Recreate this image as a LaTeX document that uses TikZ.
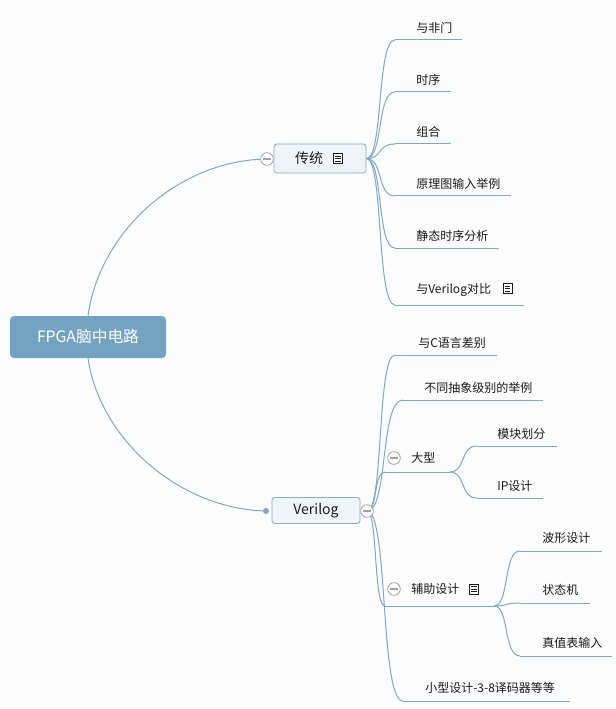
\documentclass[tikz,border=0pt]{standalone}
\usepackage{fontspec}
\setmainfont{Noto Sans CJK SC}
\usetikzlibrary{calc}
\definecolor{lc}{HTML}{7FA8C6}
\definecolor{rootfill}{HTML}{74A2C1}
\definecolor{boxfill}{HTML}{EEF4F8}
\definecolor{boxline}{HTML}{86ADCA}
\definecolor{bgc}{HTML}{FCFCFC}
\definecolor{txt}{HTML}{1A1A1A}
\pgfdeclarelayer{bg}
\pgfdeclarelayer{lines}
\pgfsetlayers{bg,lines,main}
\tikzset{
  conn/.style={draw=lc, line width=0.75pt},
  lbl/.style={anchor=west, inner sep=0pt, text=txt, font=\fontsize{9}{10}\selectfont},
  rootbox/.style={rectangle, rounded corners=3pt, fill=rootfill, text=white,
    minimum width=117pt, minimum height=31.5pt, inner sep=0pt,
    font=\fontsize{11.8}{13}\selectfont},
  topicbox/.style={rectangle, rounded corners=2pt, fill=boxfill, draw=boxline,
    line width=0.6pt, inner sep=0pt, text=txt, font=\fontsize{10.5}{12}\selectfont},
  collapse/.style={circle, draw=gray!75, fill=white, minimum size=9.5pt, inner sep=0pt,
    line width=0.6pt,
    path picture={\draw[gray!75, line width=0.8pt]
      ([xshift=-2.8pt]path picture bounding box.center) --
      ([xshift=2.8pt]path picture bounding box.center);}},
  noteicon/.pic={
    \draw[txt, line width=0.55pt, fill=white] (-4.6,-5) rectangle (4.6,5);
    \draw[txt, line width=0.5pt] (-2.6,-2.4)--(2.6,-2.4) (-2.6,0)--(2.6,0) (-2.6,2.4)--(2.6,2.4);
  }
}
\newcommand\mybranch[2]{%
  \draw[conn] let \p1=(#1), \p2=(#2) in
    (\p1) .. controls (\x1+0.6*\x2-0.6*\x1, \y1) and (\x1+0.35*\x2-0.35*\x1, \y2) .. (\p2);}
\begin{document}
\begin{tikzpicture}[x=0.75pt, y=-0.75pt]
\begin{pgfonlayer}{bg}
  \fill[bgc] (0,0) rectangle (616,709);
\end{pgfonlayer}
\useasboundingbox (0,0) rectangle (616,709);

% main nodes
\node[rootbox] (root) at (88,337) {FPGA脑中电路};
\node[topicbox, minimum width=69pt, minimum height=21.75pt] (ct) at (320,158.5) {};
\node[lbl, anchor=center, font=\fontsize{10.5}{12}\selectfont] (cttext) at (309,158.5) {传统};
\pic at (338,158.5) {noteicon};
\node[collapse] (cc) at (267,159) {};

\node[topicbox, minimum width=66pt, minimum height=19.5pt] (vl) at (316,510.5) {Verilog};
\node[collapse] (vc) at (367,511) {};
\node[circle, fill=lc, inner sep=0pt, minimum size=4.5pt] (vd) at (266,511) {};

% traditional children
\node[lbl] (a1) at (416,28) {与非门};
\node[lbl] (a2) at (416,80) {时序};
\node[lbl] (a3) at (416,132) {组合};
\node[lbl] (a4) at (416,184) {原理图输入举例};
\node[lbl] (a5) at (416,236) {静态时序分析};
\node[lbl] (a6) at (416,290) {与Verilog对比};
\pic at (507.5,288.5) {noteicon};
\coordinate (as1) at (395,40);  \coordinate (ae1) at (462,40);
\coordinate (as2) at (395,92);  \coordinate (ae2) at (451,92);
\coordinate (as3) at (395,144); \coordinate (ae3) at (451,144);
\coordinate (as4) at (395,196); \coordinate (ae4) at (511,196);
\coordinate (as5) at (395,248); \coordinate (ae5) at (499,248);
\coordinate (as6) at (395,305); \coordinate (ae6) at (524,305);

% verilog children
\node[lbl] (b1) at (418,343) {与C语言差别};
\node[lbl] (b2) at (424,388) {不同抽象级别的举例};
\node[collapse] (b3c) at (394,458) {};
\node[lbl] (b3) at (411,458) {大型};
\node[lbl] (b31) at (497,434) {模块划分};
\node[lbl] (b32) at (497,486) {IP设计};
\node[collapse] (b4c) at (394,589) {};
\node[lbl] (b4) at (411,589) {辅助设计};
\pic at (474,589) {noteicon};
\node[lbl] (b41) at (542,538) {波形设计};
\node[lbl] (b42) at (542,590) {状态机};
\node[lbl] (b43) at (542,643) {真值表输入};
\node[lbl] (b5) at (425,688) {小型设计-3-8译码器等等};
\coordinate (bs1) at (395,355); \coordinate (be1) at (497,355);
\coordinate (bs2) at (403,400); \coordinate (be2) at (543,400);
\coordinate (bs3) at (385,472); \coordinate (be3) at (450,472);
\coordinate (bs31) at (477,446); \coordinate (be31) at (557,446);
\coordinate (bs32) at (477,498); \coordinate (be32) at (543,498);
\coordinate (bs4) at (385,606); \coordinate (be4) at (494,606);
\coordinate (bs41) at (520,551); \coordinate (be41) at (602,551);
\coordinate (bs42) at (520,603); \coordinate (be42) at (590,603);
\coordinate (bs43) at (520,656); \coordinate (be43) at (612,656);
\coordinate (bs5) at (403,701); \coordinate (be5) at (570,701);

\begin{pgfonlayer}{lines}
  \draw[conn] (root.north) .. controls (100,230) and (180,160) .. (cc.center);
  \draw[conn] (root.south) .. controls (100,440) and (180,509) .. (vd.center);
  \foreach \i in {1,...,6} {
    \mybranch{ct.east}{as\i}
    \draw[conn] (as\i) -- (ae\i);
  }
  \foreach \i in {1,...,5} {
    \mybranch{vc.center}{bs\i}
    \draw[conn] (bs\i) -- (be\i);
  }
  \foreach \i in {31,32} {
    \mybranch{be3}{bs\i}
    \draw[conn] (bs\i) -- (be\i);
  }
  \foreach \i in {41,42,43} {
    \mybranch{be4}{bs\i}
    \draw[conn] (bs\i) -- (be\i);
  }
\end{pgfonlayer}
\end{tikzpicture}
\end{document}
